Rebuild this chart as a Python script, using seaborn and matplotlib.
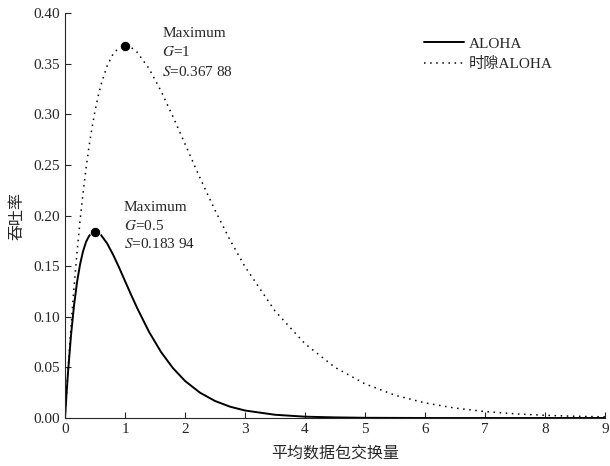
import pandas as pd
import seaborn as sns
import matplotlib.pyplot as plt
from matplotlib.ticker import FormatStrFormatter

# Dane
G = [0, 0.025, 0.05, 0.1, 0.15, 0.2, 0.25, 0.3, 0.35, 0.4, 0.45, 0.5, 0.55, 0.6, 0.7, 0.8, 0.9,
     0.95, 1.0, 1.05, 1.1, 1.2, 1.4, 1.6, 1.8, 2.0, 2.25, 2.5, 2.75, 3.0, 3.5, 4.0, 4.5, 5.0,
     5.5, 6.0, 6.5, 7.0, 7.5, 8.0, 8.5, 9.0]
S_aloha = [0, 0.0238, 0.0452, 0.0819, 0.1111, 0.1341, 0.1516, 0.1646, 0.1739, 0.1797, 0.1829,
           0.1839, 0.1831, 0.1807, 0.1726, 0.1615, 0.1488, 0.1420, 0.1353, 0.1286, 0.1219,
           0.1089, 0.0851, 0.0652, 0.0492, 0.0366, 0.0250, 0.0168, 0.0112, 0.0074, 0.0032,
           0.0013, 0.0006, 0.0002, 0.0001, 0, 0, 0, 0, 0, 0, 0]
S_slotted = [0, 0.0244, 0.0476, 0.0905, 0.1291, 0.1637, 0.1947, 0.2222, 0.2466, 0.2681, 0.2869,
             0.3033, 0.3173, 0.3293, 0.3476, 0.3595, 0.3659, 0.3674, 0.3679, 0.3675, 0.3662,
             0.3614, 0.3452, 0.3230, 0.2975, 0.2707, 0.2371, 0.2052, 0.1758, 0.1494, 0.1057,
             0.0733, 0.0500, 0.0337, 0.0225, 0.0149, 0.0098, 0.0064, 0.0041, 0.0027, 0.0017,
             0.0011]
max_G = [0.5, 1.0]
max_S = [0.18394, 0.36788]

df = pd.DataFrame({'G': G, 'ALOHA': S_aloha, 'slotted': S_slotted})

sns.set_style('ticks')
plt.rcParams['font.family'] = ['Liberation Serif', 'Noto Sans CJK SC']
plt.rcParams['mathtext.fontset'] = 'stix'
plt.rcParams['xtick.direction'] = 'in'
plt.rcParams['ytick.direction'] = 'in'

fig = plt.figure(figsize=(6.1, 4.66), dpi=100)
ax = fig.add_axes([0.1066, 0.103, 0.8852, 0.869])

sns.lineplot(data=df, x='G', y='ALOHA', ax=ax, color='black', lw=1.4, label='ALOHA')
sns.lineplot(data=df, x='G', y='slotted', ax=ax, color='black', lw=1.1,
             linestyle=(0, (1, 3)), label='时隙ALOHA')
sns.scatterplot(x=max_G, y=max_S, ax=ax, color='black', s=55, zorder=5, legend=False)

# Opisy maksimów
ax.text(1.62, 0.380, 'Maximum', fontsize=11, va='center')
ax.text(1.62, 0.3615, '$\\it{G}$=1', fontsize=11, va='center')
ax.text(1.62, 0.3417, '$\\it{S}$=0.367 88', fontsize=11, va='center')
ax.text(0.98, 0.2084, 'Maximum', fontsize=11, va='center')
ax.text(0.98, 0.1896, '$\\it{G}$=0.5', fontsize=11, va='center')
ax.text(0.98, 0.1719, '$\\it{S}$=0.183 94', fontsize=11, va='center')

ax.set_xlim(0, 9)
ax.set_ylim(0, 0.40)
ax.set_xticks(range(10))
ax.set_yticks([0, 0.05, 0.10, 0.15, 0.20, 0.25, 0.30, 0.35, 0.40])
ax.yaxis.set_major_formatter(FormatStrFormatter('%.2f'))
ax.tick_params(labelsize=11, length=4, width=0.8)
for sp in ['top', 'right']:
    ax.spines[sp].set_visible(False)

ax.set_xlabel('平均数据包交换量', fontsize=11.5, labelpad=8)
ax.set_ylabel('吞吐率', fontsize=11.5, labelpad=6)

ax.legend(loc='upper left', bbox_to_anchor=(0.64, 0.975), frameon=False, fontsize=11,
          handlelength=2.6, handletextpad=0.3, labelspacing=0.45)

plt.savefig('out.png', dpi=100)
